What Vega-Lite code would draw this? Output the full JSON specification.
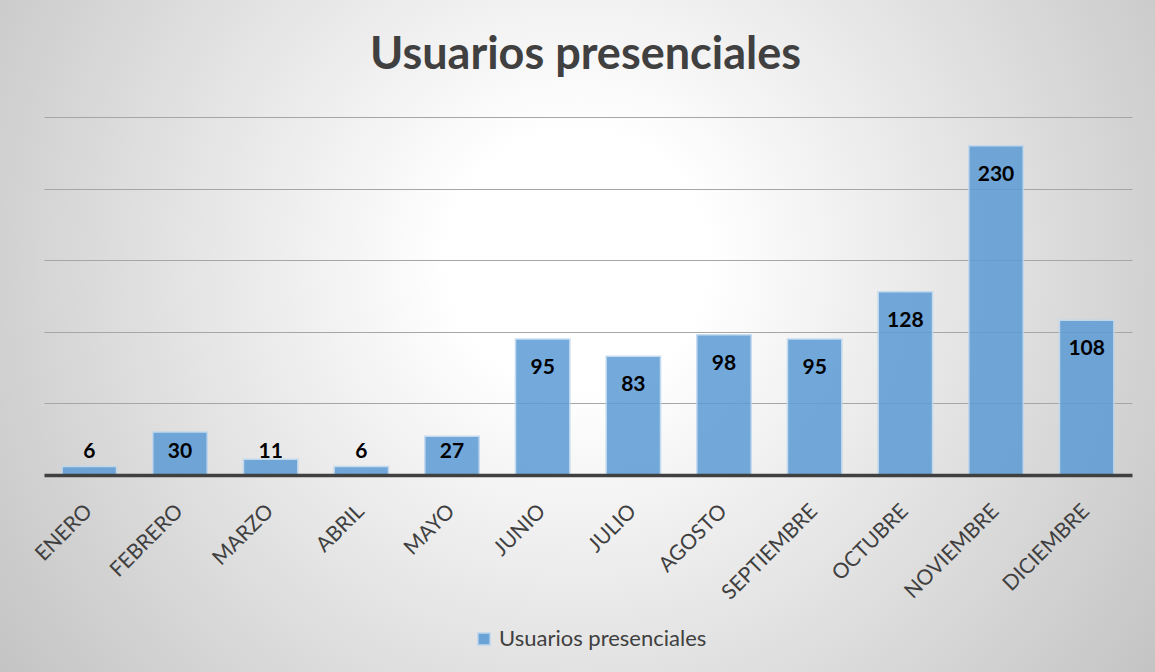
{
  "$schema": "https://vega.github.io/schema/vega-lite/v6.json",
  "width": 1155,
  "height": 672,
  "autosize": {"type": "none"},
  "padding": 0,
  "background": "#ffffff",
  "title": {
    "text": "Usuarios presenciales",
    "font": "Lato",
    "fontSize": 45,
    "fontWeight": "bold",
    "color": "#404040",
    "anchor": "middle",
    "dx": 8,
    "offset": -78
  },
  "config": {
    "view": {
      "stroke": null,
      "fill": {
        "gradient": "radial",
        "x1": 0.5, "y1": 0.434, "x2": 0.5, "y2": 0.434,
        "r1": 0, "r2": 0.62,
        "stops": [
          {"offset": 0, "color": "#ffffff"},
          {"offset": 0.18, "color": "#ffffff"},
          {"offset": 1, "color": "#c3c3c3"}
        ]
      }
    }
  },
  "data": {
    "values": [
      {"mes": "ENERO", "valor": 6},
      {"mes": "FEBRERO", "valor": 30},
      {"mes": "MARZO", "valor": 11},
      {"mes": "ABRIL", "valor": 6},
      {"mes": "MAYO", "valor": 27},
      {"mes": "JUNIO", "valor": 95},
      {"mes": "JULIO", "valor": 83},
      {"mes": "AGOSTO", "valor": 98},
      {"mes": "SEPTIEMBRE", "valor": 95},
      {"mes": "OCTUBRE", "valor": 128},
      {"mes": "NOVIEMBRE", "valor": 230},
      {"mes": "DICIEMBRE", "valor": 108}
    ]
  },
  "encoding": {
    "x": {
      "field": "mes",
      "type": "nominal",
      "sort": null,
      "scale": {"range": [44, 1132], "paddingInner": 0.4, "paddingOuter": 0.2},
      "axis": {
        "title": null,
        "offset": -197,
        "labelAngle": -45,
        "labelFont": "Lato",
        "labelFontSize": 21,
        "labelColor": "#404040",
        "labelPadding": 25,
        "labelOffset": -8,
        "ticks": false,
        "domainColor": "#404040",
        "domainWidth": 3.5,
        "zindex": 2
      }
    }
  },
  "layer": [
    {
      "mark": {"type": "bar", "opacity": 0.85, "stroke": "#bdd7ee", "strokeWidth": 1.5},
      "encoding": {
        "y": {
          "field": "valor",
          "type": "quantitative",
          "scale": {"domain": [0, 250], "range": [475, 117], "nice": false, "zero": true},
          "axis": {
            "title": null,
            "labels": false,
            "ticks": false,
            "domain": false,
            "values": [50, 100, 150, 200, 250],
            "gridColor": "#a6a6a6",
            "gridWidth": 1
          }
        },
        "color": {
          "datum": "Usuarios presenciales",
          "scale": {"range": ["#5b9bd5"]},
          "legend": {
            "title": null,
            "orient": "none",
            "legendX": 473,
            "legendY": 628,
            "symbolType": "square",
            "symbolSize": 150,
            "symbolOpacity": 0.9,
            "labelFont": "Lato",
            "labelFontSize": 22,
            "labelColor": "#404040",
            "labelLimit": 0
          }
        }
      }
    },
    {
      "transform": [{"calculate": "max(datum.valor, 36.5)", "as": "posEtiqueta"}],
      "mark": {
        "type": "text",
        "font": "Lato",
        "fontSize": 21,
        "fontWeight": "bold",
        "color": "#000000",
        "baseline": "middle",
        "dy": 29
      },
      "encoding": {
        "y": {"field": "posEtiqueta", "type": "quantitative"},
        "text": {"field": "valor", "type": "quantitative"}
      }
    }
  ]
}
